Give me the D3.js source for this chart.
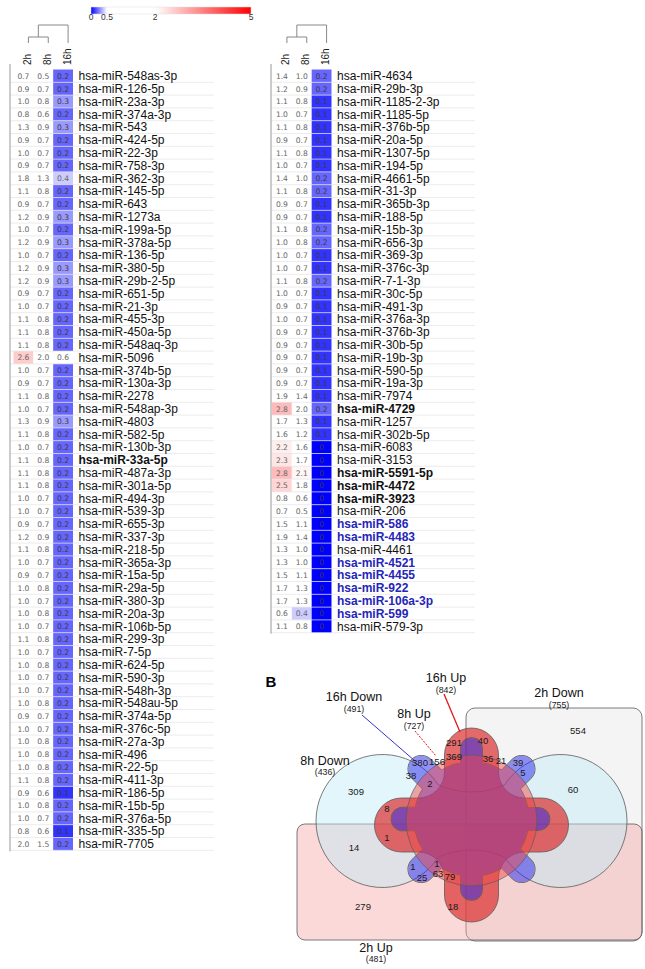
<!DOCTYPE html>
<html><head><meta charset="utf-8">
<script src="https://cdn.jsdelivr.net/npm/d3@7"></script>
<style>body{margin:0;background:#fff} svg{display:block}</style>
</head><body>
<svg id="c" width="645" height="969"></svg>
<script>
// ---------------- DATA ----------------
const timepoints = ["2h", "8h", "16h"];

const leftNames = ["hsa-miR-548as-3p","hsa-miR-126-5p","hsa-miR-23a-3p","hsa-miR-374a-3p","hsa-miR-543","hsa-miR-424-5p","hsa-miR-22-3p","hsa-miR-758-3p","hsa-miR-362-3p","hsa-miR-145-5p","hsa-miR-643","hsa-miR-1273a","hsa-miR-199a-5p","hsa-miR-378a-5p","hsa-miR-136-5p","hsa-miR-380-5p","hsa-miR-29b-2-5p","hsa-miR-651-5p","hsa-miR-21-3p","hsa-miR-455-3p","hsa-miR-450a-5p","hsa-miR-548aq-3p","hsa-miR-5096","hsa-miR-374b-5p","hsa-miR-130a-3p","hsa-miR-2278","hsa-miR-548ap-3p","hsa-miR-4803","hsa-miR-582-5p","hsa-miR-130b-3p","hsa-miR-33a-5p","hsa-miR-487a-3p","hsa-miR-301a-5p","hsa-miR-494-3p","hsa-miR-539-3p","hsa-miR-655-3p","hsa-miR-337-3p","hsa-miR-218-5p","hsa-miR-365a-3p","hsa-miR-15a-5p","hsa-miR-29a-5p","hsa-miR-380-3p","hsa-miR-20a-3p","hsa-miR-106b-5p","hsa-miR-299-3p","hsa-miR-7-5p","hsa-miR-624-5p","hsa-miR-590-3p","hsa-miR-548h-3p","hsa-miR-548au-5p","hsa-miR-374a-5p","hsa-miR-376c-5p","hsa-miR-27a-3p","hsa-miR-496","hsa-miR-22-5p","hsa-miR-411-3p","hsa-miR-186-5p","hsa-miR-15b-5p","hsa-miR-376a-5p","hsa-miR-335-5p","hsa-miR-7705"];
const left2h = [0.7,0.9,1.0,0.8,1.3,0.9,1.0,0.9,1.8,1.1, 0.9,1.2,1.0,1.2,1.0,1.2,1.2,0.9,1.0,1.1, 1.1,1.1,2.6,1.0,0.9,1.1,1.0,1.3,1.1,1.0, 1.1,1.1,1.1,1.0,1.0,0.9,1.2,1.1,1.0,0.9, 1.0,1.0,1.0,1.0,1.1,1.0,1.0,1.0,1.0,1.0, 0.9,1.0,1.0,1.0,1.0,1.1,0.9,1.0,1.0,0.8,2.0];
const left8h = [0.5,0.7,0.8,0.6,0.9,0.7,0.7,0.7,1.3,0.8, 0.7,0.9,0.7,0.9,0.7,0.9,0.9,0.7,0.7,0.8, 0.8,0.8,2.0,0.7,0.7,0.8,0.7,0.9,0.8,0.7, 0.8,0.8,0.8,0.7,0.7,0.7,0.9,0.8,0.7,0.7, 0.8,0.7,0.8,0.7,0.8,0.7,0.8,0.7,0.7,0.8, 0.7,0.7,0.8,0.8,0.8,0.8,0.6,0.8,0.7,0.6,1.5];
const left16h = [0.2,0.2,0.3,0.2,0.3,0.2,0.2,0.2,0.4,0.2, 0.2,0.3,0.2,0.3,0.2,0.3,0.3,0.2,0.2,0.2, 0.2,0.2,0.6,0.2,0.2,0.2,0.2,0.3,0.2,0.2, 0.2,0.2,0.2,0.2,0.2,0.2,0.2,0.2,0.2,0.2, 0.2,0.2,0.2,0.2,0.2,0.2,0.2,0.2,0.2,0.2, 0.2,0.2,0.2,0.2,0.2,0.2,0.1,0.2,0.2,0.1,0.2];
const leftBold = ["hsa-miR-33a-5p"];

const rightNames = ["hsa-miR-4634","hsa-miR-29b-3p","hsa-miR-1185-2-3p","hsa-miR-1185-5p","hsa-miR-376b-5p","hsa-miR-20a-5p","hsa-miR-1307-5p","hsa-miR-194-5p","hsa-miR-4661-5p","hsa-miR-31-3p","hsa-miR-365b-3p","hsa-miR-188-5p","hsa-miR-15b-3p","hsa-miR-656-3p","hsa-miR-369-3p","hsa-miR-376c-3p","hsa-miR-7-1-3p","hsa-miR-30c-5p","hsa-miR-491-3p","hsa-miR-376a-3p","hsa-miR-376b-3p","hsa-miR-30b-5p","hsa-miR-19b-3p","hsa-miR-590-5p","hsa-miR-19a-3p","hsa-miR-7974","hsa-miR-4729","hsa-miR-1257","hsa-miR-302b-5p","hsa-miR-6083","hsa-miR-3153","hsa-miR-5591-5p","hsa-miR-4472","hsa-miR-3923","hsa-miR-206","hsa-miR-586","hsa-miR-4483","hsa-miR-4461","hsa-miR-4521","hsa-miR-4455","hsa-miR-922","hsa-miR-106a-3p","hsa-miR-599","hsa-miR-579-3p"];
const right2h = [1.4,1.2,1.1,1.0,1.1,0.9,1.1,1.0,1.4,1.1, 0.9,0.9,1.1,1.0,1.0,1.0,1.1,1.0,0.9,1.0, 0.9,0.9,0.9,0.9,0.9,1.9,2.8,1.7,1.6,2.2, 2.3,2.8,2.5,0.8,0.7,1.5,1.9,1.3,1.3,1.5, 1.7,1.7,0.6,1.1];
const right8h = [1.0,0.9,0.8,0.7,0.8,0.7,0.8,0.7,1.0,0.8, 0.7,0.7,0.8,0.8,0.7,0.7,0.8,0.7,0.7,0.7, 0.7,0.7,0.7,0.7,0.7,1.4,2.0,1.3,1.2,1.6, 1.7,2.1,1.8,0.6,0.5,1.1,1.4,1.0,1.0,1.1, 1.3,1.3,0.4,0.8];
const right16h = [0.2,0.2,0.1,0.1,0.1,0.1,0.1,0.1,0.2,0.2, 0.1,0.1,0.2,0.2,0.1,0.1,0.2,0.1,0.1,0.1, 0.1,0.1,0.1,0.1,0.1,0.1,0.2,0.1,0.1,0, 0,0,0,0,0,0,0,0,0,0, 0,0,0,0];
const rightBold = ["hsa-miR-4729","hsa-miR-5591-5p","hsa-miR-4472","hsa-miR-3923"];
const rightBlue = ["hsa-miR-586","hsa-miR-4483","hsa-miR-4521","hsa-miR-4455","hsa-miR-922","hsa-miR-106a-3p","hsa-miR-599"];

const legendTicks = [0, 0.5, 2, 5];
const legendStops = [0, 0.5, 2, 5];

const vennSetNames = ["16h Up", "16h Down", "8h Up", "2h Down", "8h Down", "2h Up"];
const vennSetTotals = [842, 491, 727, 755, 436, 481];
const vennCounts = [554, 291, 40, 380, 156, 369, 36, 21, 39, 5, 38, 2, 60, 309, 8, 1, 14, 1, 1, 25, 63, 79, 279, 18];

// ---------------- LAYOUT (positions only) ----------------
const vennCountPos = [[578,731],[454,743],[483,741],[420,763],[437,762],[454,757],[488,759],[501,761],[518,763],[523,773],[411,776],[430,784],[573,790],[356,792],[387,809],[387,838],[354,848],[413,867],[437,864],[422,878],[438,874],[450,877],[363,907],[453,907]];
const vennSetLabelPos = [[446,682,693],[354,701,712],[414,718,729],[559,697,708],[325,765,775],[376,952,962]];

const FONT = "'Liberation Sans', Arial, Helvetica, sans-serif";
const NUMFONT = "'DejaVu Sans', Verdana, sans-serif";
const svg = d3.select("#c");

const color = d3.scaleLinear().domain(legendStops)
  .range(["#0000ff", "#ffffff", "#ffffff", "#ff0000"]).clamp(true);
const fmt = v => v === 0 ? "0" : d3.format(".1f")(v);

// ---------------- LEGEND ----------------
const legendX = d3.scaleLinear().domain([0, 5]).range([91, 251]);
const defs = svg.append("defs");
const grad = defs.append("linearGradient").attr("id", "lg");
d3.range(0, 5.001, 0.25).forEach(v => {
  grad.append("stop").attr("offset", (v / 5 * 100) + "%").attr("stop-color", color(v));
});
svg.append("rect").attr("x", legendX(0)).attr("y", 7).attr("width", legendX(5) - legendX(0))
  .attr("height", 7).attr("fill", "url(#lg)").attr("stroke", "#ddd").attr("stroke-width", 0.5);
svg.selectAll("text.lt").data(legendTicks).join("text").attr("class", "lt")
  .attr("x", d => legendX(d)).attr("y", 19.5).attr("text-anchor", "middle")
  .attr("font-family", FONT).attr("font-size", 8.5).attr("fill", "#333").text(d => d);

// ---------------- HEATMAP BLOCKS ----------------
function block(x0, borderX, lineEnd, names, s2, s8, s16, boldList, blueList) {
  const g = svg.append("g");
  const rowH = 12.8;
  const y = d3.scaleBand().domain(names).range([69.5, 69.5 + names.length * rowH]);
  const x = d3.scaleBand().domain(timepoints).range([x0, x0 + 59.5]);
  const series = [s2, s8, s16];
  const bw = x.bandwidth(), bh = y.bandwidth();

  timepoints.forEach((t, j) => {
    g.selectAll(null).data(names).join("rect")
      .attr("x", x(t)).attr("y", d => y(d)).attr("width", bw).attr("height", bh)
      .attr("fill", (d, i) => color(series[j][i]));
  });
  g.selectAll(null).data(names).join("line")
    .attr("x1", borderX).attr("x2", lineEnd)
    .attr("y1", d => y(d) + bh).attr("y2", d => y(d) + bh)
    .attr("stroke", "#e4e4e4").attr("stroke-width", 0.7);
  g.append("line").attr("x1", borderX).attr("x2", borderX).attr("y1", 64).attr("y2", y.range()[1] + 1)
    .attr("stroke", "#999").attr("stroke-width", 1);
  timepoints.forEach((t, j) => {
    g.selectAll(null).data(names).join("text")
      .attr("x", x(t) + bw / 2).attr("y", d => y(d) + bh / 2 + 2.8)
      .attr("text-anchor", "middle").attr("font-family", NUMFONT).attr("font-size", 7.6)
      .attr("fill", (d, i) => series[j][i] < 0.35 ? "#3a3a3a" : "#666").text((d, i) => fmt(series[j][i]));
  });
  g.selectAll(null).data(names).join("text")
    .attr("x", x0 + 65).attr("y", d => y(d) + bh / 2 + 4.2)
    .attr("font-family", FONT).attr("font-size", 12)
    .attr("font-weight", d => (boldList.includes(d) || blueList.includes(d)) ? "bold" : "normal")
    .attr("fill", d => blueList.includes(d) ? "#2525b8" : "#111").text(d => d);
  g.selectAll(null).data(timepoints).join("text")
    .attr("transform", d => `translate(${x(d) + bw / 2 + 7.5},65) rotate(-90)`)
    .attr("font-family", FONT).attr("font-size", 10).attr("fill", "#222").text(d => d);
  const cx = t => x(t) + bw / 2 + 5;
  const p = d3.path();
  p.moveTo(cx("2h"), 43); p.lineTo(cx("2h"), 37); p.lineTo(cx("8h"), 37); p.lineTo(cx("8h"), 43);
  const mid = (cx("2h") + cx("8h")) / 2;
  p.moveTo(mid, 37); p.lineTo(mid, 25); p.lineTo(cx("16h"), 25); p.lineTo(cx("16h"), 43);
  g.append("path").attr("d", p.toString()).attr("fill", "none").attr("stroke", "#888").attr("stroke-width", 1);
}
block(13.5, 10, 214, leftNames, left2h, left8h, left16h, leftBold, []);
block(272, 271, 475, rightNames, right2h, right8h, right16h, rightBold, rightBlue);

// ---------------- VENN ----------------
const vg = svg.append("g");
const STROKE = "#5a5a5a";

vg.append("rect").attr("x", 466).attr("y", 708).attr("width", 176).attr("height", 233).attr("rx", 9)
  .attr("fill", "#d9d9d9").attr("fill-opacity", 0.3).attr("stroke", STROKE).attr("stroke-width", 0.8);
vg.append("rect").attr("x", 297).attr("y", 824).attr("width", 345).attr("height", 116).attr("rx", 8)
  .attr("fill", "#f7a0a0").attr("fill-opacity", 0.4).attr("stroke", STROKE).attr("stroke-width", 0.8);

function dumbbell(cx, cy, d, r, waist, R) {
  const ax = cx - d, ay = cy, bx = cx, by = cy - waist - R;
  const dx = bx - ax, dy = by - ay, D = Math.hypot(dx, dy);
  const a = (r * r - R * R + D * D) / (2 * D);
  const h = Math.sqrt(r * r - a * a);
  const px = ax + a * dx / D, py = ay + a * dy / D;
  const c1 = [px + h * dy / D, py - h * dx / D], c2 = [px - h * dy / D, py + h * dx / D];
  const P = c1[1] > c2[1] ? c1 : c2;
  const ox = P[0] - cx, oy = P[1] - cy;
  const P1 = [cx + ox, cy + oy], P2 = [cx + ox, cy - oy], P3 = [cx - ox, cy - oy], P4 = [cx - ox, cy + oy];
  return `M${P1}A${r},${r} 0 1 0 ${P2}A${R},${R} 0 0 1 ${P3}A${r},${r} 0 1 0 ${P4}A${R},${R} 0 0 1 ${P1}Z`;
}
vg.append("path").attr("d", dumbbell(471.5, 821, 89, 66.5, 29, 80))
  .attr("fill", "#bfeaf8").attr("fill-opacity", 0.45).attr("stroke", STROKE).attr("stroke-width", 0.8);

function crossPath(cx, cy, w, L, f) {
  const p = d3.path(), PI = Math.PI;
  p.moveTo(cx - w, cy - L + w);
  p.arc(cx, cy - L + w, w, PI, 2 * PI);
  p.lineTo(cx + w, cy - w - f);
  p.arc(cx + w + f, cy - w - f, f, PI, PI / 2, true);
  p.lineTo(cx + L - w, cy - w);
  p.arc(cx + L - w, cy, w, -PI / 2, PI / 2);
  p.lineTo(cx + w + f, cy + w);
  p.arc(cx + w + f, cy + w + f, f, -PI / 2, -PI, true);
  p.lineTo(cx + w, cy + L - w);
  p.arc(cx, cy + L - w, w, 0, PI);
  p.lineTo(cx - w, cy + w + f);
  p.arc(cx - w - f, cy + w + f, f, 0, -PI / 2, true);
  p.lineTo(cx - L + w, cy + w);
  p.arc(cx - L + w, cy, w, PI / 2, 1.5 * PI);
  p.lineTo(cx - w - f, cy - w);
  p.arc(cx - w - f, cy - w - f, f, PI / 2, 0, true);
  p.closePath();
  return p.toString();
}
vg.append("path").attr("d", crossPath(471.5, 825, 27, 97, 26))
  .attr("fill", "#dc2f2f").attr("fill-opacity", 0.7).attr("stroke", STROKE).attr("stroke-width", 0.8);

function gearPath(cx, cy, r0, fingers) {
  const p = d3.path();
  p.moveTo(cx + r0, cy); p.arc(cx, cy, r0, 0, 2 * Math.PI); p.closePath();
  fingers.forEach(([ang, hw, tip]) => {
    const ux = Math.cos(ang), uy = Math.sin(ang), vx = -uy, vy = ux, t = tip - hw;
    p.moveTo(cx - hw * vx, cy - hw * vy);
    p.lineTo(cx + t * ux - hw * vx, cy + t * uy - hw * vy);
    p.arc(cx + t * ux, cy + t * uy, hw, ang - Math.PI / 2, ang + Math.PI / 2);
    p.lineTo(cx + hw * vx, cy + hw * vy);
    p.closePath();
  });
  return p.toString();
}
const Q = Math.PI / 4;
const gearD = gearPath(471.5, 819, 57, [
  [-2 * Q, 10.5, 81], [0, 11, 78], [2 * Q, 10.5, 81], [4 * Q, 11.5, 80],
  [-Q, 13, 84], [Q, 13, 84], [3 * Q, 13, 84], [-3 * Q, 13, 84]
]);
const mask = defs.append("mask").attr("id", "gm").attr("maskUnits", "userSpaceOnUse")
  .attr("x", 0).attr("y", 0).attr("width", 645).attr("height", 969);
mask.append("rect").attr("width", 645).attr("height", 969).attr("fill", "#fff");
mask.append("path").attr("d", gearD).attr("fill", "#000");
vg.append("path").attr("d", gearD).attr("fill", "#2626ee").attr("fill-opacity", 0.5);
vg.append("path").attr("d", gearD).attr("fill", "none").attr("stroke", STROKE).attr("stroke-width", 1.6)
  .attr("mask", "url(#gm)");

vg.append("circle").attr("cx", 471.5).attr("cy", 820.5).attr("r", 65.5)
  .attr("fill", "#ee4a4a").attr("fill-opacity", 0.48).attr("stroke", STROKE).attr("stroke-width", 0.7);

vg.append("line").attr("x1", 444).attr("y1", 694).attr("x2", 460).attr("y2", 732)
  .attr("stroke", "#e01818").attr("stroke-width", 1.3);
vg.append("line").attr("x1", 362).attr("y1", 715).attr("x2", 415).attr("y2", 761)
  .attr("stroke", "#3434c8").attr("stroke-width", 1);
vg.append("line").attr("x1", 415).attr("y1", 731).attr("x2", 436).attr("y2", 756)
  .attr("stroke", "#e01818").attr("stroke-width", 1).attr("stroke-dasharray", "2,1.3");

vg.selectAll("text.vc").data(vennCounts).join("text").attr("class", "vc")
  .attr("x", (d, i) => vennCountPos[i][0]).attr("y", (d, i) => vennCountPos[i][1] + 3.4)
  .attr("text-anchor", "middle").attr("font-family", FONT).attr("font-size", 9.5).attr("fill", "#1a1a1a")
  .text(d => d);

vennSetNames.forEach((n, i) => {
  const [x, y1, y2] = vennSetLabelPos[i];
  vg.append("text").attr("x", x).attr("y", y1).attr("text-anchor", "middle")
    .attr("font-family", FONT).attr("font-size", 12.5).attr("fill", "#111").text(n);
  vg.append("text").attr("x", x).attr("y", y2).attr("text-anchor", "middle")
    .attr("font-family", FONT).attr("font-size", 8.8).attr("fill", "#222").text(`(${vennSetTotals[i]})`);
});

svg.append("text").attr("x", 265.5).attr("y", 687).attr("font-family", FONT).attr("font-size", 15)
  .attr("font-weight", "bold").attr("fill", "#000").text("B");
</script>
</body></html>
